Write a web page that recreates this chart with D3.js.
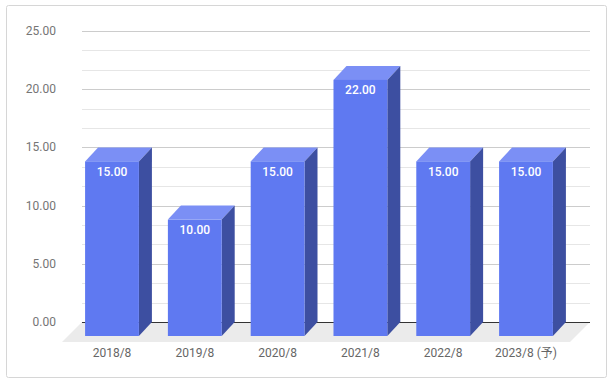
<!DOCTYPE html>
<html lang="ja">
<head>
<meta charset="UTF-8">
<script src="https://d3js.org/d3.v7.min.js"></script>
<style>
  body { margin: 0; background: #fff; font-family: Roboto, "Noto Sans CJK JP", sans-serif; }
</style>
</head>
<body>
<div id="chart"></div>
<script>
  const categories = ["2018/8", "2019/8", "2020/8", "2021/8", "2022/8", "2023/8 (予)"];
  const values = [15, 10, 15, 22, 15, 15];
  const yTicks = [0, 5, 10, 15, 20, 25];

  const W = 616, H = 384;
  const depth = { dx: 13, dy: 14 };   // bar depth offset
  const floorDepth = 20;

  const svg = d3.select("#chart").append("svg")
      .attr("width", W).attr("height", H);

  // outer frame
  svg.append("rect")
      .attr("x", 6.5).attr("y", 5.5).attr("width", 600).attr("height", 372)
      .attr("rx", 2)
      .attr("fill", "#fff").attr("stroke", "#d6d6d6");

  const y = d3.scaleLinear().domain([0, 25]).range([322, 31]);
  const x = d3.scaleBand().domain(categories)
      .range([83.6, 580.4]).paddingInner(0.35).paddingOuter(0.175);

  const gridX0 = 82, gridX1 = 590;

  // floor
  svg.append("path")
      .attr("d", `M${gridX0},${y(0)} L${gridX1},${y(0)} L${gridX1 - floorDepth},${y(0) + floorDepth} L${gridX0 - floorDepth},${y(0) + floorDepth} Z`)
      .attr("fill", "#ebebeb");

  // minor grid
  const minor = d3.range(0, 25.01, 5 / 3).filter(v => Math.abs(v % 5) > 0.01 && Math.abs(v % 5 - 5) > 0.01);
  svg.append("g").selectAll("line").data(minor).join("line")
      .attr("x1", gridX0).attr("x2", gridX1)
      .attr("y1", d => Math.round(y(d)) + 0.5).attr("y2", d => Math.round(y(d)) + 0.5)
      .attr("stroke", "#e6e6e6");

  // major grid
  svg.append("g").selectAll("line").data(yTicks.filter(d => d > 0)).join("line")
      .attr("x1", gridX0).attr("x2", gridX1)
      .attr("y1", d => Math.round(y(d)) + 0.5).attr("y2", d => Math.round(y(d)) + 0.5)
      .attr("stroke", "#cccccc");

  // baseline
  svg.append("line")
      .attr("x1", gridX0).attr("x2", gridX1)
      .attr("y1", Math.round(y(0)) + 0.5).attr("y2", Math.round(y(0)) + 0.5)
      .attr("stroke", "#333");

  // y labels
  svg.append("g").selectAll("text").data(yTicks).join("text")
      .attr("x", 56).attr("y", d => y(d) + 4)
      .attr("text-anchor", "end")
      .attr("font-size", 12).attr("fill", "#757575")
      .text(d => d3.format(".2f")(d));

  // bars (back face aligned with grid, front face offset toward viewer)
  const data = categories.map((c, i) => ({ c, v: values[i] }));
  const bars = svg.append("g").selectAll("g").data(data).join("g");
  const bw = x.bandwidth();

  bars.each(function(d) {
    const g = d3.select(this);
    const bx = x(d.c), by = y(d.v), b0 = y(0);
    const fx = bx - depth.dx, fy = by + depth.dy, f0 = b0 + depth.dy;
    // top
    g.append("path")
        .attr("d", `M${fx},${fy} L${bx},${by} L${bx + bw},${by} L${fx + bw},${fy} Z`)
        .attr("fill", "#7b8ff5");
    // side
    g.append("path")
        .attr("d", `M${fx + bw},${fy} L${bx + bw},${by} L${bx + bw},${b0} L${fx + bw},${f0} Z`)
        .attr("fill", "#3d4fa1");
    // front
    g.append("rect")
        .attr("x", fx).attr("y", fy).attr("width", bw).attr("height", f0 - fy)
        .attr("fill", "#5f79f1");
    // value label
    g.append("text")
        .attr("x", fx + bw / 2).attr("y", fy + 14.5)
        .attr("text-anchor", "middle")
        .attr("font-size", 12).attr("font-weight", 500).attr("fill", "#fff")
        .text(d3.format(".2f")(d.v));
  });

  // x labels
  svg.append("g").selectAll("text").data(categories).join("text")
      .attr("x", d => x(d) - depth.dx + bw / 2).attr("y", 357)
      .attr("text-anchor", "middle")
      .attr("font-size", 12).attr("fill", "#666")
      .text(d => d);
</script>
</body>
</html>
